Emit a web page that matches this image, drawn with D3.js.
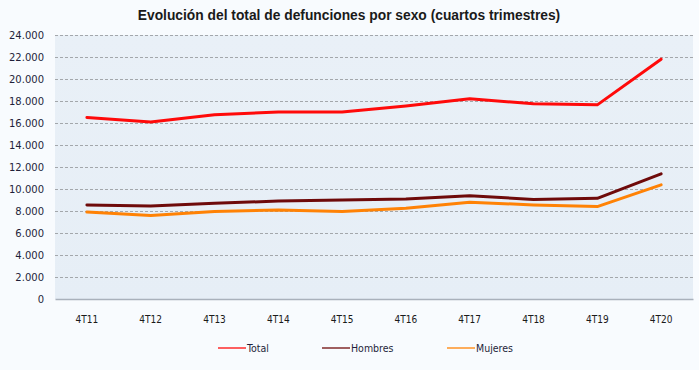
<!DOCTYPE html>
<html>
<head>
<meta charset="utf-8">
<script src="https://d3js.org/d3.v7.min.js"></script>
<style>
  body { margin: 0; background: #f8fbfe; }
  svg { display: block; }
</style>
</head>
<body>
<div id="chart"></div>
<script>
const categories = ['4T11', '4T12', '4T13', '4T14', '4T15', '4T16', '4T17', '4T18', '4T19', '4T20'];
const total = [16500, 16100, 16750, 17000, 17000, 17550, 18200, 17750, 17650, 21800];
const hombres = [8550, 8450, 8700, 8900, 9000, 9080, 9380, 9050, 9150, 11380];
const mujeres = [7900, 7600, 7950, 8100, 7950, 8250, 8800, 8550, 8400, 10380];
const yTicks = [0, 2000, 4000, 6000, 8000, 10000, 12000, 14000, 16000, 18000, 20000, 22000, 24000];

const series = [
    { name: 'Total', values: total, color: '#ff0a0a' },
    { name: 'Hombres', values: hombres, color: '#6e0a0a' },
    { name: 'Mujeres', values: mujeres, color: '#ff8205' }
];

const width = 699, height = 370;
const margin = { top: 35, right: 6, bottom: 71, left: 55 };

const svg = d3.select('#chart').append('svg')
    .attr('width', width)
    .attr('height', height);

svg.append('rect').attr('width', width).attr('height', height).attr('fill', '#f8fbfe');

// titulo
svg.append('text')
    .attr('x', 349).attr('y', 20)
    .attr('text-anchor', 'middle')
    .style('font-family', 'Liberation Sans, Arial, sans-serif')
    .style('font-size', '13.8px')
    .style('font-weight', 'bold')
    .attr('fill', '#1a1a1a')
    .text('Evolución del total de defunciones por sexo (cuartos trimestres)');

const x = d3.scaleBand().domain(categories).range([margin.left, width - margin.right]);
const y = d3.scaleLinear().domain([0, 24000]).range([height - margin.bottom, margin.top]);

// fondo del area de grafico
const grad = svg.append('defs').append('linearGradient')
    .attr('id', 'bg').attr('x1', 0).attr('y1', 0).attr('x2', 0).attr('y2', 1);
grad.append('stop').attr('offset', '0%').attr('stop-color', '#e9f0f7');
grad.append('stop').attr('offset', '100%').attr('stop-color', '#e6eef6');

svg.append('rect')
    .attr('x', margin.left).attr('y', margin.top)
    .attr('width', width - margin.right - margin.left)
    .attr('height', height - margin.bottom - margin.top)
    .attr('fill', 'url(#bg)');

// rejilla
svg.append('g').selectAll('line')
    .data(yTicks.filter(d => d > 0))
    .enter().append('line')
    .attr('x1', margin.left).attr('x2', width - margin.right)
    .attr('y1', d => Math.round(y(d)) + 0.5).attr('y2', d => Math.round(y(d)) + 0.5)
    .attr('stroke', '#a3a7ab')
    .attr('stroke-dasharray', '3,2');

// eje Y
const fmt = d3.formatLocale({ decimal: ',', thousands: '.', grouping: [3], currency: ['', '€'] }).format(',');
const yAxis = svg.append('g')
    .attr('transform', `translate(${margin.left},0)`)
    .call(d3.axisLeft(y).tickValues(yTicks).tickFormat(fmt).tickSize(0).tickPadding(11));
yAxis.select('.domain').remove();
yAxis.selectAll('text')
    .style('font-family', 'DejaVu Sans, Verdana, sans-serif')
    .style('font-size', '10px')
    .attr('fill', '#1f1f3a');

// eje X
const xAxis = svg.append('g')
    .attr('transform', `translate(0,${height - margin.bottom})`)
    .call(d3.axisBottom(x).tickSize(0).tickPadding(17));
xAxis.select('.domain').attr('stroke', '#a9b1bb').attr('stroke-width', 1.5);
xAxis.selectAll('text')
    .style('font-family', 'DejaVu Sans Condensed, DejaVu Sans, sans-serif')
    .style('font-size', '10px')
    .attr('fill', '#1a1a1a');

// lineas
const line = d3.line()
    .x((d, i) => x(categories[i]) + x.bandwidth() / 2)
    .y(d => y(d));

svg.append('g').selectAll('path')
    .data(series)
    .enter().append('path')
    .attr('d', d => line(d.values))
    .attr('fill', 'none')
    .attr('stroke', d => d.color)
    .attr('stroke-width', 3)
    .attr('stroke-linejoin', 'round')
    .attr('stroke-linecap', 'round');

// leyenda
const legendX = [218, 322, 447];
const legend = svg.append('g').selectAll('g')
    .data(series)
    .enter().append('g')
    .attr('transform', (d, i) => `translate(${legendX[i]},348)`);
legend.append('line')
    .attr('x1', 0).attr('x2', 28).attr('y1', 0).attr('y2', 0)
    .attr('stroke', d => d.color)
    .attr('stroke-opacity', 0.65)
    .attr('stroke-width', 2);
legend.append('text')
    .attr('x', 29).attr('y', 4)
    .style('font-family', 'DejaVu Sans Condensed, DejaVu Sans, sans-serif')
    .style('font-size', '10.5px')
    .attr('fill', '#1f1f3a')
    .text(d => d.name);
</script>
</body>
</html>
